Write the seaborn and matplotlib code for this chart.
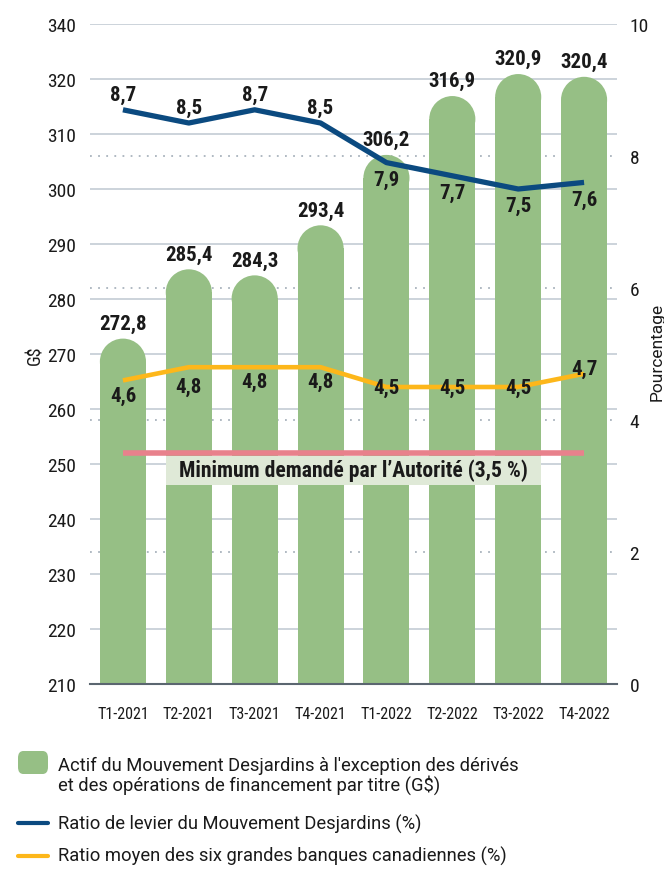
import numpy as np
import seaborn as sns
import matplotlib.pyplot as plt
from matplotlib import font_manager as fm
from matplotlib.patches import Ellipse, Rectangle, FancyBboxPatch
from matplotlib.lines import Line2D

# Data
trimestres = ['T1-2021', 'T2-2021', 'T3-2021', 'T4-2021',
              'T1-2022', 'T2-2022', 'T3-2022', 'T4-2022']
actif = [272.8, 285.4, 284.3, 293.4, 306.2, 316.9, 320.9, 320.4]
levier_desj = [8.7, 8.5, 8.7, 8.5, 7.9, 7.7, 7.5, 7.6]
levier_banques = [4.6, 4.8, 4.8, 4.8, 4.5, 4.5, 4.5, 4.7]
minimum_amf = 3.5

# left axis as printed in the source (top label reads 340)
left_ticks = list(range(210, 331, 10))
left_tick_labels = ['210', '220', '230', '240', '250', '260', '270',
                    '280', '290', '300', '310', '320', '340']
right_ticks = [0, 2, 4, 6, 8, 10]

legend_labels = [
    "Actif du Mouvement Desjardins à l'exception des dérivés\net des opérations de financement par titre (G$)",
    "Ratio de levier du Mouvement Desjardins (%)",
    "Ratio moyen des six grandes banques canadiennes (%)",
]

# Styles
GREEN = '#96bf85'
BLUE = '#0b4a80'
YELLOW = '#fdb71a'
PINK = '#e8818c'
BOX = '#dfe9d7'
TXT = '#1a1a1a'

sns.set_style('white')
plt.rcParams['font.family'] = ['Roboto', 'DejaVu Sans']

# condensed faces: one regular for ticks, one with a bold weight for labels
cond_fonts = {}
for f in fm.fontManager.ttflist:
    n = f.name.lower()
    if 'condensed' in n or 'narrow' in n:
        w = f.weight if isinstance(f.weight, int) else (700 if 'bold' in str(f.weight) else 400)
        cond_fonts.setdefault(f.name, set()).add(w)
COND = 'Roboto'
COND_B = 'Roboto'
for name in ['Roboto Condensed', 'Liberation Sans Narrow', 'DejaVu Sans Condensed',
             'Open Sans Condensed'] + sorted(cond_fonts):
    if name in cond_fonts:
        if COND == 'Roboto' and 400 in cond_fonts[name]:
            COND = name
        if COND_B == 'Roboto' and max(cond_fonts[name]) >= 600:
            COND_B = name
if COND == 'Roboto' and cond_fonts:
    COND = sorted(cond_fonts)[0]


def fr(v):
    return f"{v:.1f}".replace('.', ',')


LBL = dict(fontsize=15, fontweight='bold', color=TXT, zorder=6, family=COND_B)

W, H = 664, 870
fig = plt.figure(figsize=(W / 100, H / 100), dpi=100)
ax_l, ax_b, ax_r, ax_t = 90, 685, 617, 25
ax = fig.add_axes([ax_l / W, 1 - ax_b / H, (ax_r - ax_l) / W, (ax_b - ax_t) / H])
ax2 = ax.twinx()

ylo, yhi = left_ticks[0], left_ticks[-1]

# bars
bar_w = 0.7
sns.barplot(x=trimestres, y=actif, color=GREEN, saturation=1, width=bar_w,
            ax=ax, zorder=2, linewidth=0)
ax.set_xlim(-0.5, 7.5)
ax.set_ylim(ylo, yhi)
ax2.set_ylim(0, 10)

# rounded caps, circular in pixels; the cap's top sits on the value
px_x = (ax_r - ax_l) / 8.0
px_y = (ax_b - ax_t) / (yhi - ylo)
cap_h = bar_w * px_x / px_y
for p in list(ax.patches):
    xc = p.get_x() + p.get_width() / 2
    top = p.get_height()
    p.set_height(top - cap_h / 2)
    ax.add_patch(Ellipse((xc, top - cap_h / 2), p.get_width(), cap_h,
                         facecolor=GREEN, lw=0, zorder=2))

for i, v in enumerate(actif):
    ax.annotate(fr(v), (i, v), xytext=(0, 4), textcoords='offset points',
                ha='center', va='bottom', **LBL)

# grid
ax.set_yticks(left_ticks)
ax.set_yticklabels(left_tick_labels)
ax.grid(axis='y', color='#c8d0d8', lw=1.3, zorder=0)
ax.grid(axis='x', visible=False)
ax.set_axisbelow(True)
ax.hlines(right_ticks[1:-1], -0.5, 7.43, transform=ax2.transData,
          colors='#a9b3bd', linestyles=(0, (1, 3.5)), lw=1.3, zorder=1)

# lines
x = np.arange(len(trimestres))
sns.lineplot(x=x, y=levier_desj, color=BLUE, lw=3.8, ax=ax2, zorder=4,
             solid_joinstyle='round', solid_capstyle='butt')
sns.lineplot(x=x, y=levier_banques, color=YELLOW, lw=3.3, ax=ax2, zorder=4,
             solid_joinstyle='round', solid_capstyle='butt')

desj_off = [11, 11, 11, 11, -12, -12, -12, -12]
banq_off = [-11, -14, -10, -10, 0, 0, 0, 4]
for i, v in enumerate(levier_desj):
    ax2.annotate(fr(v), (i, v), xytext=(0, desj_off[i]), textcoords='offset points',
                 ha='center', va='center', **LBL)
for i, v in enumerate(levier_banques):
    ax2.annotate(fr(v), (i, v), xytext=(0, banq_off[i]), textcoords='offset points',
                 ha='center', va='center', **LBL)

# minimum requirement
ax2.add_patch(Rectangle((1 - bar_w / 2, 3.02), 5 + bar_w, 0.43,
                        facecolor=BOX, lw=0, zorder=3))
ax2.hlines(minimum_amf, 0, 7, colors=PINK, lw=4, zorder=4)
ax2.text(3.5, 3.24, "Minimum demandé par l\u2019Autorité (3,5 %)", ha='center', va='center',
         **{**LBL, 'fontsize': 15.6})

# axes styling
ax2.set_yticks(right_ticks)
ax2.grid(False)
for a in (ax, ax2):
    for s in ('top', 'right', 'left'):
        a.spines[s].set_visible(False)
ax2.spines['bottom'].set_visible(False)
ax.spines['bottom'].set_color('#5b6670')
ax.spines['bottom'].set_linewidth(1.5)
ax.spines['bottom'].set_zorder(5)

ax.tick_params(axis='y', length=0, pad=10, labelsize=14, labelcolor=TXT)
ax.tick_params(axis='x', length=0, pad=16, labelsize=11.5, labelcolor=TXT)
ax2.tick_params(axis='y', length=0, pad=9, labelsize=14, labelcolor=TXT)
for lab in ax.get_yticklabels() + ax.get_xticklabels() + ax2.get_yticklabels():
    lab.set_family(COND)
ax.set_xlabel('')
ax.set_ylabel('')
ax2.set_ylabel('')

fig.text(35 / W, 1 - 355 / H, 'G$', rotation=90, ha='center', va='center',
         fontsize=13, color=TXT, family=COND)
fig.text(657 / W, 1 - 352 / H, 'Pourcentage', rotation=90, ha='center', va='center',
         fontsize=12.5, color=TXT)

# legend (manual)
fig.add_artist(FancyBboxPatch((18 / W, 1 - 775 / H), 30 / W, 23 / H,
                              boxstyle='round,pad=0,rounding_size=0.008',
                              transform=fig.transFigure, facecolor=GREEN, lw=0))
fig.add_artist(Line2D([18 / W, 48 / W], [1 - 824 / H] * 2, color=BLUE, lw=3,
                      transform=fig.transFigure))
fig.add_artist(Line2D([18 / W, 48 / W], [1 - 857 / H] * 2, color=YELLOW, lw=3,
                      transform=fig.transFigure))
leg_y = [776, 824, 856]
fig.text(58 / W, 1 - leg_y[0] / H, legend_labels[0], ha='left', va='center',
         fontsize=13.2, color=TXT, linespacing=1.0)
fig.text(58 / W, 1 - leg_y[1] / H, legend_labels[1], ha='left', va='center',
         fontsize=13.2, color=TXT)
fig.text(58 / W, 1 - leg_y[2] / H, legend_labels[2], ha='left', va='center',
         fontsize=13.2, color=TXT)

fig.savefig('out.png', dpi=100)
